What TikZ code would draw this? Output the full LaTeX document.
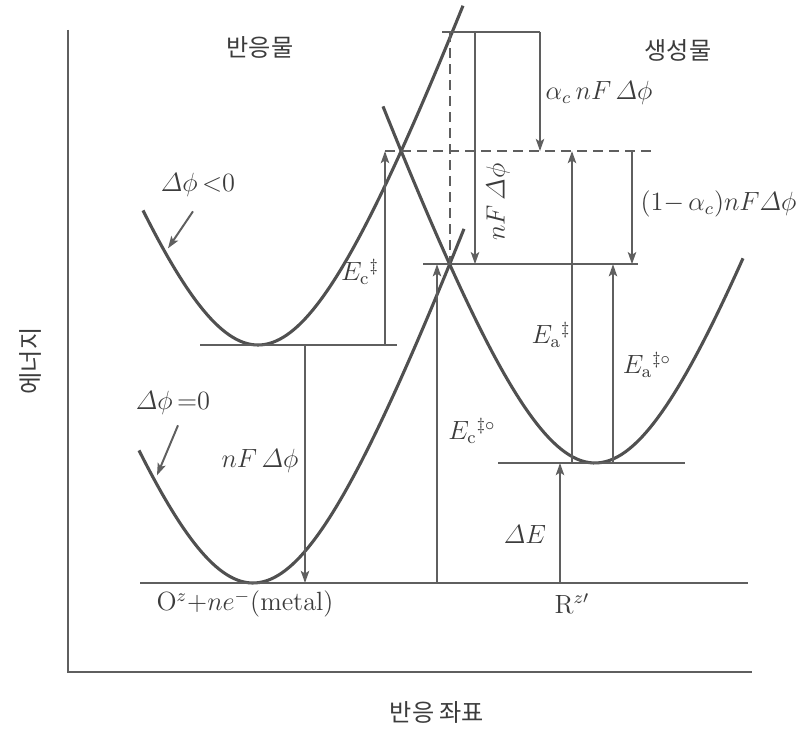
\documentclass[tikz,border=0pt]{standalone}
\usepackage{amsmath}
\usepackage{fontspec}
\newfontfamily\kr{Noto Sans CJK KR}
\usetikzlibrary{arrows.meta,intersections}
\definecolor{ink}{RGB}{60,60,60}
\definecolor{curvec}{RGB}{80,80,80}
\definecolor{linec}{RGB}{95,95,95}
\tikzset{
  curve/.style={curvec, line width=1.4pt},
  lvl/.style={linec, line width=0.9pt},
  dsh/.style={linec, line width=0.9pt, dash pattern=on 4.5pt off 2.8pt},
  arr/.style={linec, line width=0.9pt, -{Stealth[length=5.5pt,width=3.8pt,inset=1.2pt]}},
  lab/.style={text=ink, font=\fontsize{12}{14}\selectfont, inner sep=1pt},
  kor/.style={text=ink, font=\kr\fontsize{11}{13}\selectfont, inner sep=1pt}
}

\begin{document}
\begin{tikzpicture}[x=0.016cm, y=-0.016cm]
  \useasboundingbox (0,0) rectangle (807,733);

  % Ejes
  \draw[lvl] (68,30) -- (68,672) -- (752,672);
  \node[kor, rotate=90] (yax) at (30,361) {에너지};
  \node[kor] (xax) at (437,712) {반응 좌표};

  % Curvas de energia
  \draw[curve, name path=R1] plot[domain=143:463, samples=90] (\x, {345-325*(sqrt(1+((\x-258)/115)^2)-1)});
  \draw[curve, name path=R0] plot[domain=139:464, samples=90] (\x, {583-325*(sqrt(1+((\x-253)/115)^2)-1)});
  \draw[curve, name path=P] plot[domain=383:743, samples=90] (\x, {463-325*(sqrt(1+((\x-595)/115)^2)-1)});
  \path[name intersections={of=R1 and P, by=ux}];
  \path[name intersections={of=R0 and P, by=lx}];

  % Niveles
  \coordinate (m0) at (253,583);
  \coordinate (m1) at (258,345);
  \coordinate (mp) at (595,463);
  \coordinate (top) at (456,32);
  \draw[lvl] (140,0 |- m0) -- (748,0 |- m0);
  \draw[lvl] (200,0 |- m1) -- (397,0 |- m1);
  \draw[lvl] (498,0 |- mp) -- (685,0 |- mp);
  \draw[lvl] (423,0 |- lx) -- (638,0 |- lx);
  \draw[lvl] (442,0 |- top) -- (540,0 |- top);
  \draw[dsh] (385,0 |- ux) -- (655,0 |- ux);
  \draw[dsh] (lx |- top) -- (lx);

  % Flechas
  \draw[arr] (540,0 |- top) -- (540,0 |- ux);
  \draw[arr] (475,0 |- top) -- (475,0 |- lx);
  \draw[arr] (385,0 |- m1) -- (385,0 |- ux);
  \draw[arr] (305,0 |- m1) -- (305,0 |- m0);
  \draw[arr] (437,0 |- m0) -- (437,0 |- lx);
  \draw[arr] (572,0 |- mp) -- (572,0 |- ux);
  \draw[arr] (613,0 |- mp) -- (613,0 |- lx);
  \draw[arr] (632,0 |- ux) -- (632,0 |- lx);
  \draw[arr] (560,0 |- m0) -- (560,0 |- mp);

  % Etiquetas
  \node[kor] (reac) at (260,47) {반응물};
  \node[kor] (prod) at (678,50) {생성물};
  \node[lab] (dneg) at (198,185) {$\varDelta\phi\,{<}0$};
  \node[lab] (dzero) at (173,403) {$\varDelta\phi\,{=}0$};
  \draw[arr] (dneg.south) ++(-5,12) -- ++(-25,37);
  \draw[arr] (dzero.south) ++(5,8) -- ++(-21,50);
  \node[lab] (ec) at (360,272) {$E_{\mathrm{c}}{}^{\ddagger}$};
  \node[lab] (nfl) at (260,461) {$nF\,\varDelta\phi$};
  \node[lab] (ec0) at (472,431) {$E_{\mathrm{c}}{}^{\ddagger\circ}$};
  \node[lab] (ea) at (551,335) {$E_{\mathrm{a}}{}^{\ddagger}$};
  \node[lab] (ea0) at (647,365) {$E_{\mathrm{a}}{}^{\ddagger\circ}$};
  \node[lab] (de) at (525,534) {$\varDelta E$};
  \node[lab, anchor=west] (acn) at (543,93) {$\alpha_c\,nF\,\varDelta\phi$};
  \node[lab, rotate=90] (nfv) at (498,202) {$nF\,\varDelta\phi$};
  \node[lab, anchor=west] (acm) at (638,204) {$(1{-}\,\alpha_c)nF\varDelta\phi$};
  \node[lab] (ox) at (245,604) {O$^{z}$+$ne^{-}$(metal)};
  \node[lab] (rd) at (572,604) {R$^{z\prime}$};
\end{tikzpicture}
\end{document}
